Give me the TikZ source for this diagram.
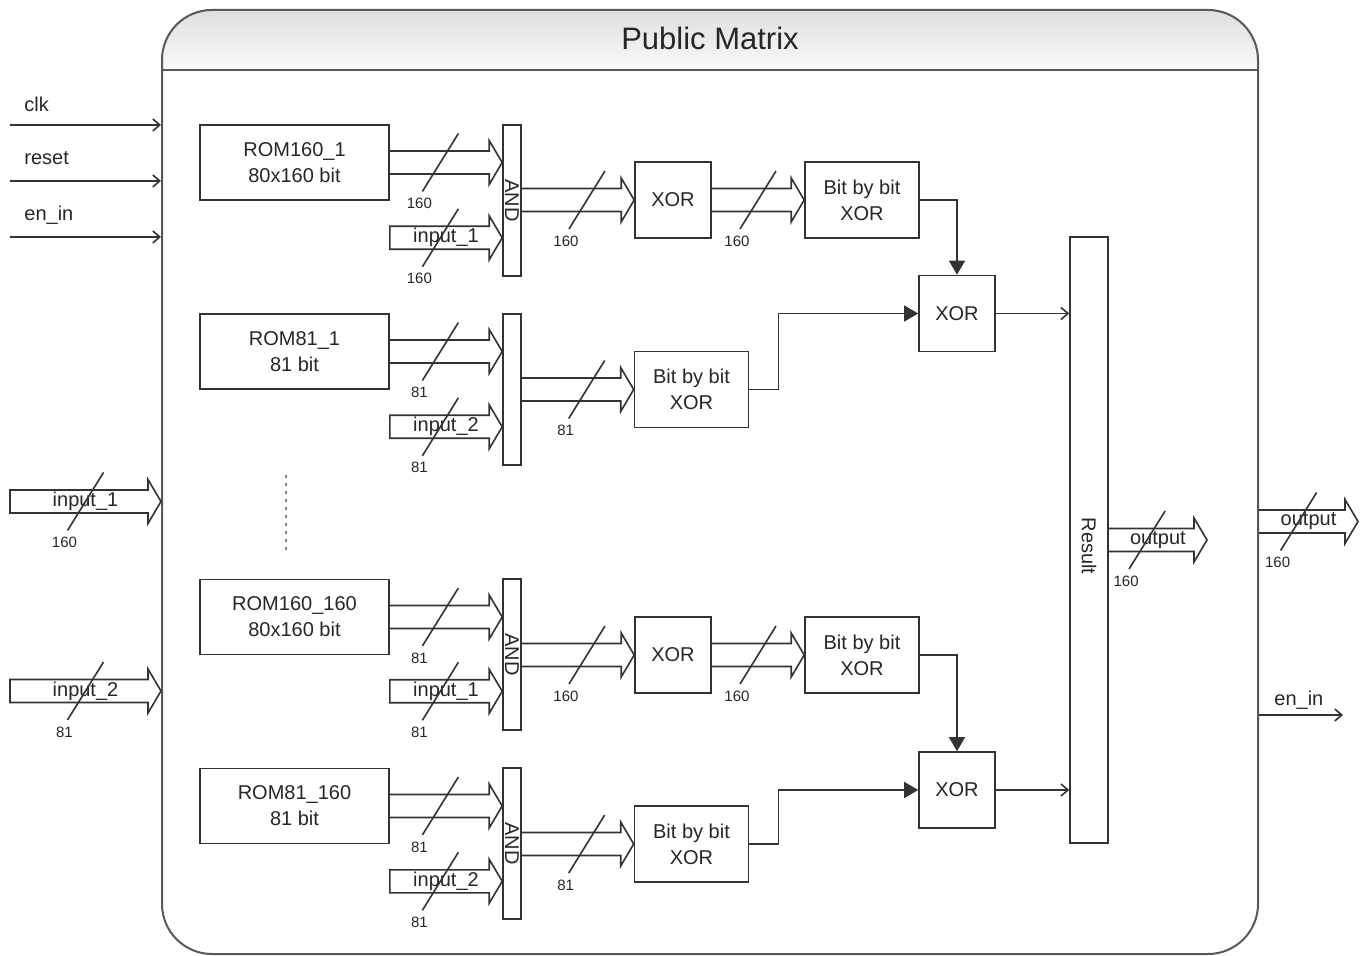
\documentclass[tikz,border=0pt]{standalone}
\usepackage{fontspec}
\setmainfont{Liberation Sans}
\usetikzlibrary{calc,arrows.meta,backgrounds}

\begin{document}
\begin{tikzpicture}[x=0.5pt,y=-0.5pt]

\tikzset{
  frame/.style={draw=black!65, line width=1pt, rounded corners=25pt,
                minimum width=548pt, minimum height=472pt, inner sep=0pt},
  block/.style={draw=black!80, line width=0.8pt, text=black!85, align=center,
                font=\fontsize{10}{13}\selectfont, inner sep=0pt},
  rombox/.style={block, minimum width=94.5pt, minimum height=37.5pt},
  xorbox/.style={block, minimum width=38pt, minimum height=38pt},
  bitbox/.style={block, minimum width=57pt, minimum height=38pt},
  andbar/.style={block, minimum width=9pt, minimum height=75.5pt},
  resbar/.style={block, minimum width=19pt, minimum height=303pt},
  vlabel/.style={rotate=-90, text=black!85, font=\fontsize{10}{12}\selectfont, inner sep=0pt},
  siglabel/.style={anchor=base west, text=black!85, font=\fontsize{10}{12}\selectfont, inner sep=0pt},
  signal/.style={black!80, line width=0.8pt, -{Straight Barb[length=3.5pt, width=6pt]}},
  wire/.style={black!80, line width=0.8pt, -{Triangle[length=7pt, width=8pt]}},
  busline/.style={black!80, line width=0.8pt},
  buslabel/.style={text=black!85, font=\fontsize{10}{12}\selectfont, inner sep=0pt},
  buswidth/.style={text=black!85, font=\fontsize{7.5}{9}\selectfont, inner sep=0pt}
}

% hollow bus arrow: [slash pos]{from}{to}{text}{width}{tail}
\newcommand{\bus}[6][0.5]{
  \path (#2) coordinate (bs);
  \path (#3) coordinate (bt);
  \draw[busline] ($(bs)+(0,-11.5)$) -- ($(bt)+(-13,-11.5)$) -- ++(0,-10.5) -- (bt)
    -- ($(bt)+(-13,22)$) -- ++(0,-10.5) -- ($(bs)+(0,11.5)$) #6;
  \node[buslabel] at ($(bs)!0.5!(bt)$) {#4};
  \draw[busline] ($(bs)!#1!(bt)+(18,-29)$) -- ($(bs)!#1!(bt)+(-18,29)$);
  \node[buswidth] at ($(bs)!#1!(bt)+(-21,41)$) {#5};
}

\useasboundingbox (0,0) rectangle (1371,956);

% Boundary and title
\node[frame] (pm) at (710,482) {};
\coordinate (hdr) at (710,70);
\begin{scope}[on background layer]
  \clip[rounded corners=25pt] (pm.south west) rectangle (pm.north east);
  \shade[top color=black!13, bottom color=black!2] (pm.north west) rectangle (pm.east |- hdr);
\end{scope}
\draw[black!65, line width=1pt] (pm.west |- hdr) -- (pm.east |- hdr);
\node[text=black!85, font=\fontsize{15.5}{18}\selectfont] (title) at (710,38) {Public Matrix};

% Result
\node[resbar] (res) at (1089,540) {};
\node[vlabel] (rest) at (1089,546) {Result};

% Row 1
\node[rombox] (rom1) at (294.5,162.5) {ROM160\_1\\80x160 bit};
\node[andbar] (and1) at (512,200.5) {};
\node[vlabel] (and1t) at (and1) {AND};
\node[xorbox] (xor1) at (673,200) {XOR};
\node[bitbox] (bit1) at (862,200) {Bit by bit\\XOR};
\node[xorbox] (xorA) at (957,313.5) {XOR};

\bus[0.45]{rom1.east}{and1.west |- bs}{}{160}{}
\bus[0.45]{$(rom1.south east)+(0,37)$}{and1.west |- bs}{input\_1}{160}{-- cycle}
\bus[0.58]{and1.east |- xor1.west}{xor1.west}{}{160}{}
\bus{xor1.east}{bit1.west}{}{160}{}
\draw[wire] (bit1.east) -| (xorA.north);
\draw[signal] (xorA.east) -- (res.west |- xorA.east);

% Row 2
\node[rombox] (rom2) at (294.5,351.5) {ROM81\_1\\81 bit};
\node[andbar] (and2) at (512,389.5) {};
\node[bitbox] (bit2) at (691.5,389.5) {Bit by bit\\XOR};

\bus[0.45]{rom2.east}{and2.west |- bs}{}{81}{}
\bus[0.45]{$(rom2.south east)+(0,37)$}{and2.west |- bs}{input\_2}{81}{-- cycle}
\bus[0.58]{and2.east |- bit2.west}{bit2.west}{}{81}{}
\draw[wire] (bit2.east) -- ++(29,0) |- (xorA.west);

% dots
\draw[black!50, line width=1.3pt, dash pattern=on 1.5pt off 2.5pt] (286,475) -- (286,555);

% Row 3
\node[rombox] (rom3) at (294.5,617) {ROM160\_160\\80x160 bit};
\node[andbar] (and3) at (512,654.5) {};
\node[vlabel] (and3t) at (and3) {AND};
\node[xorbox] (xor3) at (673,655) {XOR};
\node[bitbox] (bit3) at (862,655) {Bit by bit\\XOR};
\node[xorbox] (xorB) at (957,790) {XOR};

\bus[0.45]{rom3.east}{and3.west |- bs}{}{81}{}
\bus[0.45]{$(rom3.south east)+(0,36)$}{and3.west |- bs}{input\_1}{81}{-- cycle}
\bus[0.58]{and3.east |- xor3.west}{xor3.west}{}{160}{}
\bus{xor3.east}{bit3.west}{}{160}{}
\draw[wire] (bit3.east) -| (xorB.north);
\draw[signal] (xorB.east) -- (res.west |- xorB.east);

% Row 4
\node[rombox] (rom4) at (294.5,806) {ROM81\_160\\81 bit};
\node[andbar] (and4) at (512,843.5) {};
\node[vlabel] (and4t) at (and4) {AND};
\node[bitbox] (bit4) at (691.5,844) {Bit by bit\\XOR};

\bus[0.45]{rom4.east}{and4.west |- bs}{}{81}{}
\bus[0.45]{$(rom4.south east)+(0,37)$}{and4.west |- bs}{input\_2}{81}{-- cycle}
\bus[0.58]{and4.east |- bit4.west}{bit4.west}{}{81}{}
\draw[wire] (bit4.east) -- ++(29,0) |- (xorB.west);

% Inputs
\coordinate (clkin) at (10,125);
\coordinate (rstin) at (10,181);
\coordinate (enin) at (10,237);
\draw[signal] (clkin) -- (pm.west |- clkin);
\draw[signal] (rstin) -- (pm.west |- rstin);
\draw[signal] (enin) -- (pm.west |- enin);
\node[siglabel] (clkl) at (24,112) {clk};
\node[siglabel] (rstl) at (24,165) {reset};
\node[siglabel] (enl) at (24,221) {en\_in};

\coordinate (in1) at (10,501.5);
\bus{in1}{pm.west |- bs}{input\_1}{160}{-- cycle}
\coordinate (in2) at (10,691);
\bus{in2}{pm.west |- bs}{input\_2}{81}{-- cycle}

% Outputs
\coordinate (resout) at (1207,540);
\bus[0.39]{res.east}{resout}{output}{160}{}
\coordinate (pmout) at (1358,521.5);
\bus[0.4]{pm.east |- pmout}{pmout}{output}{160}{}
\coordinate (enout) at (1343,715);
\draw[signal] (pm.east |- enout) -- (enout);
\node[siglabel] (enoutl) at (1274,705) {en\_in};

\end{tikzpicture}
\end{document}
